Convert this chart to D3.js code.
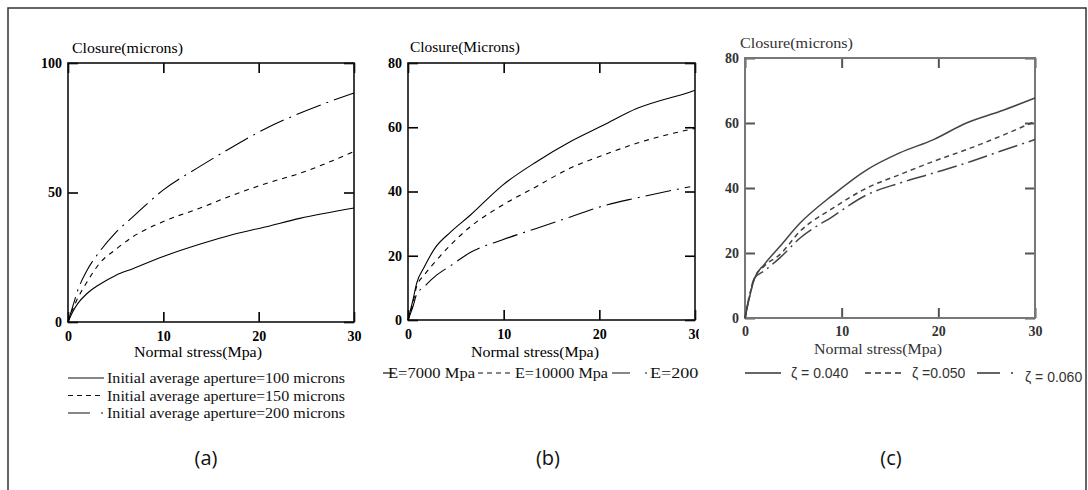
<!DOCTYPE html>
<html><head><meta charset="utf-8">
<script src="https://cdn.jsdelivr.net/npm/d3@7"></script>
<style>body{margin:0;background:#fff}svg{display:block}</style>
</head><body>
<svg id="chart" width="1088" height="490"></svg>
<script>
// ---------- data ----------
const xTicks = [0, 10, 20, 30];
const yTicksA = [0, 50, 100];
const yTicksB = [0, 20, 40, 60, 80];
const yTicksC = [0, 20, 40, 60, 80];

// (a) closure vs normal stress for initial apertures
const stressA = [0, 0.5, 1, 2, 3.3, 5, 6.8, 10, 13.8, 17.3, 20.8, 24.3, 30];
const aperture100 = [0, 4, 7, 11, 14.5, 18, 20.6, 25.3, 30, 33.8, 36.8, 40, 44];
const aperture150 = [0, 5, 9, 15.5, 22.6, 28, 32.9, 38.8, 43.9, 49, 53.5, 57.4, 65.8];
const aperture200 = [0, 6, 12, 20, 27.1, 34.5, 40.6, 51, 60, 67.7, 74.8, 80.6, 88.4];

// (b) closure vs normal stress for Young's modulus
const stressB = [0, 0.5, 0.9, 1.7, 2.8, 4.5, 6.5, 9.9, 13.4, 16.9, 20.4, 23.9, 29.5, 30];
const modulus7000 = [0, 6, 11.4, 16.5, 22.3, 27.5, 32.6, 42, 49.2, 55.4, 60.6, 65.8, 71, 71.5];
const modulus10000 = [0, 5, 10.4, 14, 18, 23.5, 29, 35.8, 41.5, 47.2, 51.3, 55, 59.3, 59.6];
const modulus20000 = [0, 4, 8, 10.4, 13.5, 17, 21, 25, 28.5, 32, 35.5, 38, 41.5, null];

// (c) closure vs normal stress for zeta
const stressC = [0, 1, 2, 3.6, 5.7, 9.1, 12.6, 16, 19.5, 22.9, 26.4, 30];
const zeta040 = [0, 12.3, 16.5, 22, 29.2, 37.9, 45.6, 50.8, 54.9, 60, 63.6, 67.7];
const zeta050 = [0, 12.3, 16, 19.5, 26.7, 33.8, 40, 44.1, 48.2, 51.8, 55.9, 60.5];
const zeta060 = [0, 12.3, 14.5, 18.5, 24.6, 31.3, 37.9, 41.5, 44.6, 47.7, 51.3, 54.9];

const legendA = ["Initial average aperture=100 microns", "Initial average aperture=150 microns", "Initial average aperture=200 microns"];
const legendB = ["E=7000 Mpa", "E=10000 Mpa", "E=20000 Mpa"];
const legendC = ["\u03B6 = 0.040", "\u03B6 =0.050", "\u03B6 = 0.060"];
const yTitles = ["Closure(microns)", "Closure(Microns)", "Closure(microns)"];
const xTitle = "Normal stress(Mpa)";
const captions = ["(a)", "(b)", "(c)"];

// ---------- drawing ----------
const svg = d3.select("#chart");
const SERIF = "'Liberation Serif', 'DejaVu Serif', serif";
const SANS = "'Liberation Sans', Arial, sans-serif";

// outer frame
svg.append("rect").attr("x", 8).attr("y", 8).attr("width", 1078).attr("height", 500)
  .attr("fill", "none").attr("stroke", "#333").attr("stroke-width", 1.5);

const defs = svg.append("defs");
defs.append("clipPath").attr("id", "clipB").append("rect")
  .attr("x", 360).attr("y", 0).attr("width", 339).attr("height", 490);

function panel(cfg) {
  const g = svg.append("g");
  if (cfg.clip) g.attr("clip-path", "url(#" + cfg.clip + ")");
  const x = d3.scaleLinear().domain([0, 30]).range([cfg.left, cfg.right]);
  const y = d3.scaleLinear().domain([0, cfg.ymax]).range([cfg.bottom, cfg.top]);
  const axisStyle = sel => {
    sel.attr("font-family", null).attr("font-size", null);
    sel.select(".domain").remove();
    sel.selectAll(".tick line").attr("stroke", cfg.axisColor).attr("stroke-width", cfg.tickW);
    sel.selectAll("text")
      .style("font-family", SERIF).style("font-size", "14px").style("font-weight", cfg.tickWeight)
      .attr("fill", cfg.labelColor);
  };
  g.append("g").attr("transform", `translate(0,${cfg.bottom})`)
    .call(d3.axisBottom(x).tickValues(xTicks).tickSize(-10).tickPadding(cfg.xPad).tickFormat(d3.format("d")))
    .call(axisStyle);
  g.append("g").attr("transform", `translate(0,${cfg.top})`)
    .call(d3.axisTop(x).tickValues(xTicks).tickSize(-10).tickFormat(""))
    .call(axisStyle);
  g.append("g").attr("transform", `translate(${cfg.left},0)`)
    .call(d3.axisLeft(y).tickValues(cfg.yTicks).tickSize(-10).tickPadding(6).tickFormat(d3.format("d")))
    .call(axisStyle);
  g.append("g").attr("transform", `translate(${cfg.right},0)`)
    .call(d3.axisRight(y).tickValues(cfg.yTicks).tickSize(-10).tickFormat(""))
    .call(axisStyle);
  g.append("rect").attr("x", cfg.left).attr("y", cfg.top)
    .attr("width", cfg.right - cfg.left).attr("height", cfg.bottom - cfg.top)
    .attr("fill", "none").attr("stroke", cfg.frameColor).attr("stroke-width", cfg.frameW);

  const line = d3.line().defined(d => d[1] != null)
    .x(d => x(d[0])).y(d => y(d[1])).curve(d3.curveMonotoneX);
  cfg.series.forEach(s => {
    g.append("path").datum(cfg.xs.map((v, i) => [v, s.values[i]]))
      .attr("d", line).attr("fill", "none").attr("stroke", cfg.lineColor)
      .attr("stroke-width", cfg.lineW).attr("stroke-dasharray", s.dash);
  });

  g.append("text").attr("x", cfg.ytX).attr("y", cfg.ytY).text(cfg.yTitle)
    .style("font-family", SERIF).style("font-size", "15px").attr("fill", cfg.labelColor)
    .attr("textLength", cfg.ytLen).attr("lengthAdjust", "spacingAndGlyphs");
  g.append("text").attr("x", cfg.xtX).attr("y", cfg.xtY).text(xTitle)
    .attr("text-anchor", "middle")
    .style("font-family", SERIF).style("font-size", "15px").attr("fill", cfg.labelColor)
    .attr("textLength", 128).attr("lengthAdjust", "spacingAndGlyphs");
  return g;
}

const gA = panel({
  left: 68, right: 354, top: 63, bottom: 322, ymax: 100, yTicks: yTicksA, xPad: 9,
  axisColor: "#000", labelColor: "#000", frameColor: "#111", frameW: 1.6, tickW: 1.6, tickWeight: "bold",
  lineColor: "#000", lineW: 1.1, xs: stressA,
  series: [
    { values: aperture100, dash: null },
    { values: aperture150, dash: "5,5" },
    { values: aperture200, dash: "26,6,2,6" }
  ],
  yTitle: yTitles[0], ytX: 72, ytY: 53, ytLen: 111, xtX: 198, xtY: 357
});

const gB = panel({
  clip: "clipB",
  left: 408, right: 695, top: 63, bottom: 320, ymax: 80, yTicks: yTicksB, xPad: 9,
  axisColor: "#000", labelColor: "#000", frameColor: "#111", frameW: 1.6, tickW: 1.6, tickWeight: "bold",
  lineColor: "#000", lineW: 1.1, xs: stressB,
  series: [
    { values: modulus7000, dash: null },
    { values: modulus10000, dash: "5,5" },
    { values: modulus20000, dash: "26,6,2,6" }
  ],
  yTitle: yTitles[1], ytX: 410, ytY: 52, ytLen: 110, xtX: 535, xtY: 357
});

const gC = panel({
  left: 745, right: 1035, top: 58, bottom: 318, ymax: 80, yTicks: yTicksC, xPad: 8,
  axisColor: "#555", labelColor: "#333", frameColor: "#777", frameW: 2, tickW: 2, tickWeight: "bold",
  lineColor: "#444", lineW: 1.5, xs: stressC,
  series: [
    { values: zeta040, dash: null },
    { values: zeta050, dash: "5,4" },
    { values: zeta060, dash: "20,5,2,5" }
  ],
  yTitle: yTitles[2], ytX: 740, ytY: 48, ytLen: 113, xtX: 878, xtY: 354
});

// legend (a)
const legA = gA.append("g");
const legADash = [null, "5,4", "22,11,2,11"];
legendA.forEach((t, i) => {
  const yy = 378 + i * 17.5;
  legA.append("line").attr("x1", 68).attr("x2", 104).attr("y1", yy).attr("y2", yy)
    .attr("stroke", "#111").attr("stroke-width", 1.2).attr("stroke-dasharray", legADash[i]);
  legA.append("text").attr("x", 107).attr("y", yy + 5).text(t)
    .style("font-family", SERIF).style("font-size", "15px").attr("fill", "#111")
    .attr("textLength", 238).attr("lengthAdjust", "spacingAndGlyphs");
});

// legend (b)
const legB = gB.append("g");
const legBLine = [[383, 394, null], [478, 513, "5,4"], [612, 647, "18,15,2,10"]];
const legBText = [[388, 87], [515, 93], [650, 104]];
legendB.forEach((t, i) => {
  const yy = 373;
  legB.append("line").attr("x1", legBLine[i][0]).attr("x2", legBLine[i][1]).attr("y1", yy).attr("y2", yy)
    .attr("stroke", "#111").attr("stroke-width", 1.2).attr("stroke-dasharray", legBLine[i][2]);
  legB.append("text").attr("x", legBText[i][0]).attr("y", yy + 5).text(t)
    .style("font-family", SERIF).style("font-size", "15px").attr("fill", "#111")
    .attr("textLength", legBText[i][1]).attr("lengthAdjust", "spacingAndGlyphs");
});

// legend (c)
const legC = gC.append("g");
const legCLine = [[745, 781, null], [865, 903, "6,4"], [977, 1014, "23,11,2,10"]];
const legCText = [[791, 378], [912, 378], [1025, 382]];
legendC.forEach((t, i) => {
  const yy = 373;
  legC.append("line").attr("x1", legCLine[i][0]).attr("x2", legCLine[i][1]).attr("y1", yy).attr("y2", yy)
    .attr("stroke", "#333").attr("stroke-width", 1.5).attr("stroke-dasharray", legCLine[i][2]);
  legC.append("text").attr("x", legCText[i][0]).attr("y", legCText[i][1]).text(t)
    .style("font-family", SANS).style("font-size", "14px").attr("fill", "#333");
});

// captions
const capX = [206, 548, 891];
captions.forEach((t, i) => {
  svg.append("text").attr("x", capX[i]).attr("y", 465).text(t)
    .attr("text-anchor", "middle").style("font-family", "'Open Sans', 'Noto Sans', sans-serif")
    .style("font-size", "20px").attr("fill", "#111");
});
</script>
</body></html>
